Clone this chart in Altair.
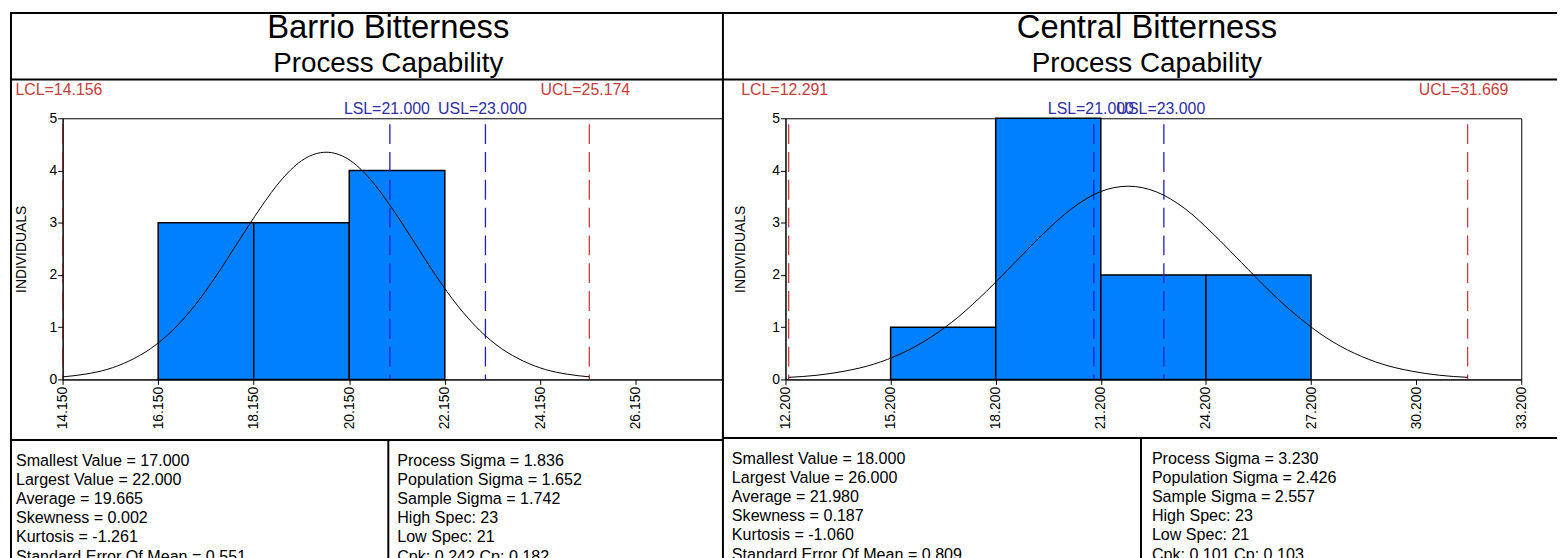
import altair as alt
import pandas as pd

FONT = "Liberation Sans"

# ---------------- data: Barrio ----------------
barrio_title = "Barrio Bitterness"
barrio_bin_start = [16.15, 18.15, 20.15]
barrio_bin_end = [18.15, 20.15, 22.15]
barrio_counts = [3, 3, 4]
barrio_curve_x = [14.157, 14.616, 15.075, 15.534, 15.993, 16.452, 16.911, 17.370, 17.829,
                  18.288, 18.747, 19.206, 19.665, 20.124, 20.583, 21.042, 21.501, 21.960,
                  22.419, 22.878, 23.337, 23.796, 24.255, 24.714, 25.173]
barrio_curve_y = [0.05, 0.10, 0.19, 0.35, 0.59, 0.94, 1.41, 1.99, 2.64, 3.28, 3.84, 4.22, 4.35,
                  4.22, 3.84, 3.28, 2.64, 1.99, 1.41, 0.94, 0.59, 0.35, 0.19, 0.10, 0.05]
barrio_ticks = [14.15, 16.15, 18.15, 20.15, 22.15, 24.15, 26.15]
barrio_domain = [14.15, 27.95]
barrio_ctrl_x = [14.156, 25.174]
barrio_ctrl_text = ["LCL=14.156", "UCL=25.174"]
barrio_spec_x = [21.0, 23.0]
barrio_spec_text = ["LSL=21.000", "USL=23.000"]
barrio_stats_left = ["Smallest Value = 17.000", "Largest Value = 22.000", "Average = 19.665",
                     "Skewness = 0.002", "Kurtosis = -1.261", "Standard Error Of Mean = 0.551"]
barrio_stats_right = ["Process Sigma = 1.836", "Population Sigma = 1.652", "Sample Sigma = 1.742",
                      "High Spec: 23", "Low Spec: 21", "Cpk: 0.242   Cp: 0.182"]

# ---------------- data: Central ----------------
central_title = "Central Bitterness"
central_bin_start = [15.2, 18.2, 21.2, 24.2]
central_bin_end = [18.2, 21.2, 24.2, 27.2]
central_counts = [1, 5, 2, 2]
central_curve_x = [12.29, 13.10, 13.90, 14.71, 15.52, 16.33, 17.14, 17.94, 18.75, 19.56, 20.37,
                   21.17, 21.98, 22.79, 23.60, 24.40, 25.21, 26.02, 26.83, 27.63, 28.44, 29.25,
                   30.06, 30.86, 31.67]
central_curve_y = [0.04, 0.08, 0.16, 0.29, 0.50, 0.80, 1.20, 1.69, 2.24, 2.79, 3.27, 3.59, 3.70,
                   3.59, 3.27, 2.79, 2.24, 1.69, 1.20, 0.80, 0.50, 0.29, 0.16, 0.08, 0.04]
central_ticks = [12.2, 15.2, 18.2, 21.2, 24.2, 27.2, 30.2, 33.2]
central_domain = [12.2, 33.2]
central_ctrl_x = [12.291, 31.669]
central_ctrl_text = ["LCL=12.291", "UCL=31.669"]
central_spec_x = [21.0, 23.0]
central_spec_text = ["LSL=21.000", "USL=23.000"]
central_stats_left = ["Smallest Value = 18.000", "Largest Value = 26.000", "Average = 21.980",
                      "Skewness = 0.187", "Kurtosis = -1.060", "Standard Error Of Mean = 0.809"]
central_stats_right = ["Process Sigma = 3.230", "Population Sigma = 2.426", "Sample Sigma = 2.557",
                       "High Spec: 23", "Low Spec: 21", "Cpk: 0.101   Cp: 0.103"]

H = 263
RED = "#C83C3C"
BLUE_LINE = "#1E1EC8"
BLUE_TEXT = "#2E2EA6"
BAR = "#0080FF"
TOP = -107
BOTTOM = 470


def panel(title, bs, be, counts, cx, cy, ticks, domain, width,
          ctrl_x, ctrl_text, spec_x, spec_text, stats_l, stats_r,
          left_edge, right_edge, title_x, sep_y, div_x, sl_x, sr_x, st_y, ytitle_pad):
    one = pd.DataFrame({"k": [0]})
    xscale = alt.Scale(domain=domain, nice=False, zero=False)
    yscale = alt.Scale(domain=[0, 5], nice=False, zero=True)
    xaxis = alt.Axis(values=ticks, format=".3f", labelAngle=270, title=None, grid=False,
                     labelFontSize=14, labelFont=FONT, labelColor="black", tickColor="black",
                     domainColor="black", tickSize=5, labelPadding=2, labelOverlap=False,
                     labelFlush=False, zindex=1)
    yaxis = alt.Axis(values=[0, 1, 2, 3, 4, 5], format="d", title="INDIVIDUALS", grid=False,
                     labelFontSize=14, labelFont=FONT, labelColor="black", tickColor="black",
                     domainColor="black", tickSize=5, labelPadding=1, titleFont=FONT,
                     titleFontSize=14, titleFontWeight="normal", titleColor="black",
                     titlePadding=ytitle_pad, labelFlush=False, zindex=1)

    def X(f):
        return alt.X(f, type="quantitative", scale=xscale, axis=xaxis)

    def Y(f):
        return alt.Y(f, type="quantitative", scale=yscale, axis=yaxis)

    lines = [
        alt.Chart(one).mark_rule(color="black", strokeWidth=2).encode(
            x=alt.value(left_edge), x2=alt.value(right_edge), y=alt.value(TOP + 1)),
        alt.Chart(one).mark_rule(color="black", strokeWidth=2).encode(
            x=alt.value(left_edge + 1), y=alt.value(TOP), y2=alt.value(BOTTOM)),
        alt.Chart(one).mark_rule(color="black", strokeWidth=2).encode(
            x=alt.value(left_edge), x2=alt.value(right_edge), y=alt.value(-39)),
        alt.Chart(one).mark_rule(color="black", strokeWidth=2).encode(
            x=alt.value(left_edge), x2=alt.value(right_edge), y=alt.value(sep_y)),
        alt.Chart(one).mark_rule(color="black", strokeWidth=2).encode(
            x=alt.value(div_x), y=alt.value(sep_y), y2=alt.value(BOTTOM)),
    ]

    bars_df = pd.DataFrame({"start": bs, "end": be, "count": counts})
    bars = alt.Chart(bars_df).mark_rect(fill=BAR, stroke="black", strokeWidth=1.5).encode(
        x=X("start"), x2="end", y=Y("count"), y2=alt.datum(0))

    curve_df = pd.DataFrame({"cx": cx, "cy": cy})
    curve = alt.Chart(curve_df).mark_line(color="black", strokeWidth=1,
                                          interpolate="monotone").encode(
        x=X("cx"), y=Y("cy"))

    ctrl_df = pd.DataFrame({"v": ctrl_x, "t": ctrl_text})
    spec_df = pd.DataFrame({"v": spec_x, "t": spec_text})
    ctrl_rule = alt.Chart(ctrl_df).mark_rule(color=RED, strokeWidth=1.3, strokeDash=[20, 8]).encode(
        x=X("v"), y=alt.value(6), y2=alt.value(H))
    spec_rule = alt.Chart(spec_df).mark_rule(color=BLUE_LINE, strokeWidth=1.3, strokeDash=[20, 8]).encode(
        x=X("v"), y=alt.value(6), y2=alt.value(H))
    ctrl_lab = alt.Chart(ctrl_df).mark_text(color=RED, font=FONT, fontSize=16, align="center",
                                            baseline="middle", dx=-4).encode(
        x=X("v"), y=alt.value(-28), text="t:N")
    spec_lab = alt.Chart(spec_df).mark_text(color=BLUE_TEXT, font=FONT, fontSize=16, align="center",
                                            baseline="middle", dx=-3).encode(
        x=X("v"), y=alt.value(-9), text="t:N")

    t1 = alt.Chart(one).mark_text(font=FONT, fontSize=33, color="black", align="center",
                                  baseline="alphabetic", text=title).encode(
        x=alt.value(title_x), y=alt.value(-81))
    t2 = alt.Chart(one).mark_text(font=FONT, fontSize=28, color="black", align="center",
                                  baseline="alphabetic", text="Process Capability").encode(
        x=alt.value(title_x), y=alt.value(-47))

    s1 = alt.Chart(one).mark_text(font=FONT, fontSize=16.2, color="black", align="left",
                                  baseline="alphabetic", lineBreak="\n", lineHeight=19.3,
                                  text="\n".join(stats_l)).encode(
        x=alt.value(sl_x), y=alt.value(st_y))
    s2 = alt.Chart(one).mark_text(font=FONT, fontSize=16.2, color="black", align="left",
                                  baseline="alphabetic", lineBreak="\n", lineHeight=19.3,
                                  text="\n".join(stats_r)).encode(
        x=alt.value(sr_x), y=alt.value(st_y))

    return alt.layer(*lines, bars, ctrl_rule, spec_rule, curve, ctrl_lab, spec_lab,
                     t1, t2, s1, s2).properties(width=width, height=H)


left = panel(barrio_title, barrio_bin_start, barrio_bin_end, barrio_counts,
             barrio_curve_x, barrio_curve_y, barrio_ticks, barrio_domain, 664,
             barrio_ctrl_x, barrio_ctrl_text, barrio_spec_x, barrio_spec_text,
             barrio_stats_left, barrio_stats_right,
             left_edge=-53, right_edge=664, title_x=328, sep_y=324, div_x=328,
             sl_x=-47, sr_x=337, st_y=350, ytitle_pad=21)

right = panel(central_title, central_bin_start, central_bin_end, central_counts,
              central_curve_x, central_curve_y, central_ticks, central_domain, 741,
              central_ctrl_x, central_ctrl_text, central_spec_x, central_spec_text,
              central_stats_left, central_stats_right,
              left_edge=-64, right_edge=777, title_x=364, sep_y=322, div_x=358,
              sl_x=-54, sr_x=369, st_y=348, ytitle_pad=24)

chart = alt.hconcat(left, right, spacing=64, bounds="flush").properties(
    padding=0, background="white"
).configure_view(stroke="black", strokeWidth=1)

chart.save("out.html", embed_options={"renderer": "svg", "actions": False})
